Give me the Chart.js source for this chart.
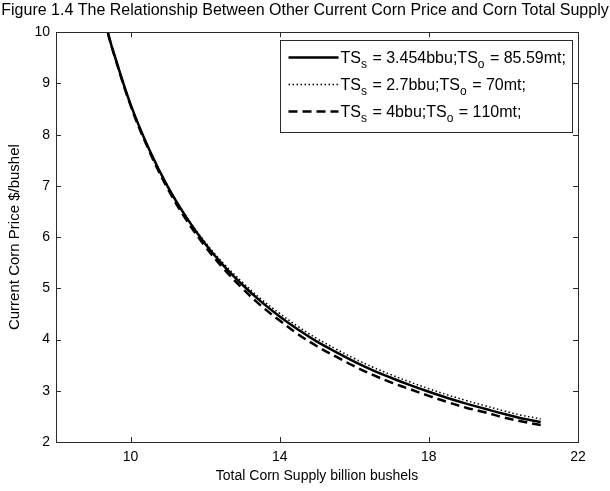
<!DOCTYPE html>
<html>
<head>
<meta charset="utf-8">
<title>Corn price vs total supply</title>
<script src="https://cdn.jsdelivr.net/npm/chart.js@4.4.1/dist/chart.umd.min.js"></script>
<style>
  html, body { margin: 0; padding: 0; background: #fff; }
  canvas { display: block; }
</style>
</head>
<body>
<canvas id="chart" width="610" height="491"></canvas>
<script>
// total supply, billion bushels
const supply = [9.3, 9.4, 9.5, 10, 10.5, 11, 11.5, 12, 12.5, 13, 13.5, 14, 14.5, 15, 15.5, 16, 16.5, 17, 17.5, 18, 18.5, 19, 19.5, 20, 20.5, 21];

// current corn price, $/bushel
const priceBase = [10.24, 9.97, 9.71, 8.59, 7.71, 6.98, 6.38, 5.87, 5.44, 5.07, 4.74, 4.45, 4.19, 3.96, 3.76, 3.57, 3.40, 3.25, 3.11, 2.98, 2.86, 2.75, 2.65, 2.55, 2.46, 2.39];
const priceLow = [10.24, 9.97, 9.71, 8.60, 7.72, 7.00, 6.40, 5.90, 5.48, 5.12, 4.79, 4.51, 4.25, 4.02, 3.82, 3.63, 3.46, 3.31, 3.17, 3.04, 2.92, 2.81, 2.71, 2.61, 2.52, 2.45];
const priceHigh = [10.24, 9.96, 9.70, 8.57, 7.68, 6.94, 6.33, 5.82, 5.38, 5.00, 4.66, 4.37, 4.10, 3.87, 3.67, 3.48, 3.31, 3.16, 3.03, 2.90, 2.78, 2.67, 2.58, 2.48, 2.40, 2.33];

const seriesLabels = [
  'TS_s = 3.454bbu;TS_o = 85.59mt;',
  'TS_s = 2.7bbu;TS_o = 70mt;',
  'TS_s = 4bbu;TS_o = 110mt;'
];

const xTicks = [10, 14, 18, 22];
const yTicks = [2, 3, 4, 5, 6, 7, 8, 9, 10];

const FONT = "'Liberation Sans', Arial, sans-serif";
const AXIS_COLOR = '#2a2a2a';

const toPoints = (ys) => supply.map((x, i) => ({ x: x, y: ys[i] }));

// matlab-style box with inward ticks on all four sides
const boxTicks = {
  id: 'boxTicks',
  afterDraw(chart) {
    const { ctx, chartArea: a, scales } = chart;
    const len = 5;
    ctx.save();
    ctx.strokeStyle = AXIS_COLOR;
    ctx.lineWidth = 1;
    ctx.beginPath();
    scales.x.ticks.forEach(t => {
      const px = Math.round(scales.x.getPixelForValue(t.value)) + 0.5;
      ctx.moveTo(px, a.bottom); ctx.lineTo(px, a.bottom - len);
      ctx.moveTo(px, a.top); ctx.lineTo(px, a.top + len);
    });
    scales.y.ticks.forEach(t => {
      const py = Math.round(scales.y.getPixelForValue(t.value)) + 0.5;
      ctx.moveTo(a.left, py); ctx.lineTo(a.left + len, py);
      ctx.moveTo(a.right, py); ctx.lineTo(a.right - len, py);
    });
    ctx.stroke();
    ctx.strokeRect(Math.round(a.left) + 0.5, Math.round(a.top) + 0.5,
      Math.round(a.right - a.left), Math.round(a.bottom - a.top));
    ctx.restore();
  }
};

// legend box; a character after '_' is drawn as a subscript
const subLegend = {
  id: 'subLegend',
  afterDraw(chart) {
    const { ctx, chartArea: a } = chart;
    const w = 292, h = 92;
    const left = Math.round(a.right - 6 - w) + 0.5;
    const top = Math.round(a.top + 8) + 0.5;
    ctx.save();
    ctx.fillStyle = '#fff';
    ctx.fillRect(left, top, w, h);
    ctx.strokeStyle = AXIS_COLOR;
    ctx.lineWidth = 1;
    ctx.strokeRect(left, top, w, h);

    chart.data.datasets.forEach((ds, i) => {
      const cy = top + 17 + i * 27;
      ctx.strokeStyle = ds.borderColor;
      ctx.lineWidth = ds.borderWidth;
      ctx.setLineDash(ds.borderDash || []);
      ctx.beginPath();
      ctx.moveTo(left + 8, cy);
      ctx.lineTo(left + 58, cy);
      ctx.stroke();
      ctx.setLineDash([]);

      let x = left + 60;
      const base = cy + 5;
      ctx.fillStyle = '#000';
      ctx.textBaseline = 'alphabetic';
      const text = ds.label;
      for (let k = 0; k < text.length; k++) {
        if (text[k] === '_') {
          ctx.font = '12px ' + FONT;
          ctx.fillText(text[k + 1], x, base + 5);
          x += ctx.measureText(text[k + 1]).width + 1;
          k++;
        } else {
          ctx.font = '16px ' + FONT;
          ctx.fillText(text[k], x, base);
          x += ctx.measureText(text[k]).width;
        }
      }
    });
    ctx.restore();
  }
};

new Chart(document.getElementById('chart'), {
  type: 'line',
  data: {
    datasets: [
      {
        label: seriesLabels[0],
        data: toPoints(priceBase),
        borderColor: '#000',
        borderWidth: 2.5,
        pointRadius: 0,
        tension: 0.4
      },
      {
        label: seriesLabels[1],
        data: toPoints(priceLow),
        borderColor: '#000',
        borderWidth: 1.5,
        borderDash: [1.5, 2.5],
        pointRadius: 0,
        tension: 0.4
      },
      {
        label: seriesLabels[2],
        data: toPoints(priceHigh),
        borderColor: '#000',
        borderWidth: 2.5,
        borderDash: [9, 5],
        pointRadius: 0,
        tension: 0.4
      }
    ]
  },
  options: {
    responsive: false,
    animation: false,
    layout: { padding: 0 },
    plugins: {
      legend: { display: false },
      tooltip: { enabled: false },
      title: {
        display: true,
        text: 'Figure 1.4 The Relationship Between Other Current Corn Price and Corn Total Supply',
        color: '#000',
        font: { family: FONT, size: 16, weight: 'normal' },
        padding: { top: 1, bottom: 12 }
      }
    },
    scales: {
      x: {
        type: 'linear',
        min: 8,
        max: 22,
        afterBuildTicks: (scale) => { scale.ticks = xTicks.map(v => ({ value: v })); },
        afterFit: (scale) => { scale.height = 49; },
        grid: { display: false, drawTicks: false },
        border: { display: false },
        ticks: { color: '#000', padding: 7, font: { family: FONT, size: 14 } },
        title: {
          display: true,
          text: 'Total Corn Supply billion bushels',
          color: '#000',
          font: { family: FONT, size: 14 },
          padding: { top: 0, bottom: 6 }
        }
      },
      y: {
        type: 'linear',
        min: 2,
        max: 10,
        afterBuildTicks: (scale) => { scale.ticks = yTicks.map(v => ({ value: v })); },
        afterFit: (scale) => { scale.width = 56; },
        grid: { display: false, drawTicks: false },
        border: { display: false },
        ticks: { color: '#000', padding: 6, font: { family: FONT, size: 14 } },
        title: {
          display: true,
          text: 'Current Corn Price $/bushel',
          color: '#000',
          font: { family: FONT, size: 15 },
          padding: { top: 6, bottom: 0 }
        }
      },
      // empty right-hand strip so the plot ends where the box does
      yRight: {
        type: 'linear',
        position: 'right',
        min: 2,
        max: 10,
        afterFit: (scale) => { scale.width = 32; },
        grid: { display: false, drawTicks: false },
        border: { display: false },
        ticks: { display: false }
      }
    }
  },
  plugins: [boxTicks, subLegend]
});
</script>
</body>
</html>
